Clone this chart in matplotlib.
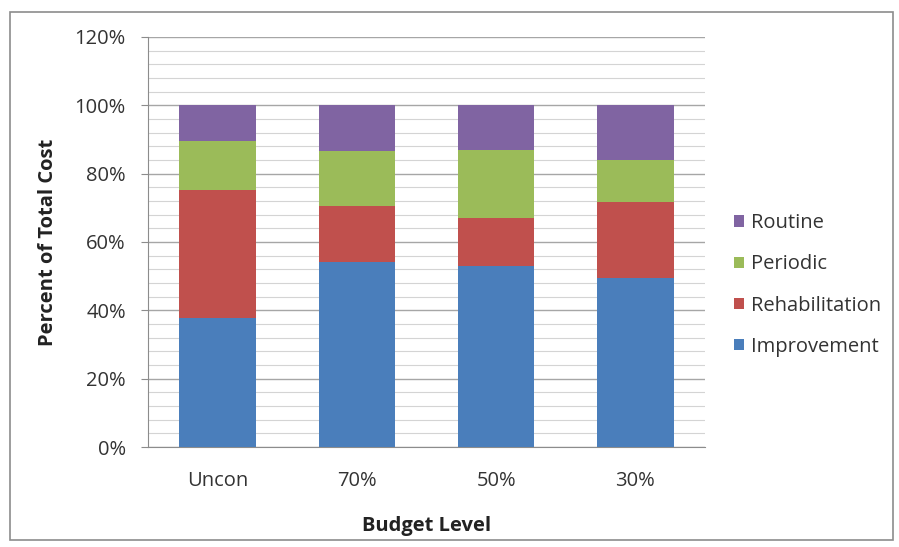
import numpy as np
import matplotlib.pyplot as plt
from matplotlib.patches import Rectangle

# === Daten ===
categories = ['Uncon', '70%', '50%', '30%']
series_names = ['Improvement', 'Rehabilitation', 'Periodic', 'Routine']
improvement = [37.8, 54.1, 52.9, 49.6]
rehabilitation = [37.3, 16.4, 14.1, 22.1]
periodic = [14.5, 16.1, 19.8, 12.2]
routine = [10.4, 13.4, 13.2, 16.1]
colors = ['#4A7EBB', '#C0504D', '#9BBB59', '#8064A2']

plt.rcParams['font.family'] = ['Open Sans', 'DejaVu Sans']
fs = 14.5

fig = plt.figure(figsize=(8.99, 5.47), dpi=100)
ax = fig.add_axes([0.1646, 0.1828, 0.6196, 0.7496])

# Rahmen um das ganze Diagramm
fig.patches.append(Rectangle((0.011, 0.012), 0.982, 0.966, transform=fig.transFigure,
                             fill=False, edgecolor='#8c8c8c', linewidth=1.2))

x = np.arange(len(categories))
bottom = np.zeros(len(categories))
for name, vals, col in zip(series_names, [improvement, rehabilitation, periodic, routine], colors):
    ax.bar(x, vals, 0.55, bottom=bottom, color=col, label=name, zorder=3)
    bottom += np.array(vals)

ax.set_xlim(-0.5, 3.5)
ax.set_ylim(0, 120)
ax.set_yticks(np.arange(0, 121, 20))
ax.set_yticklabels([f'{v}%' for v in range(0, 121, 20)])
ax.set_yticks(np.arange(0, 121, 4), minor=True)
ax.set_xticks(x)
ax.set_xticklabels(categories)

# Gitter
ax.grid(axis='y', which='major', color='#a6a6a6', linewidth=1.0, zorder=0)
ax.grid(axis='y', which='minor', color='#d4d4d4', linewidth=0.8, zorder=0)

for s in ['top', 'right']:
    ax.spines[s].set_visible(False)
ax.spines['left'].set_color('#8c8c8c')
ax.spines['bottom'].set_color('#8c8c8c')
ax.tick_params(axis='y', which='major', length=5, color='#8c8c8c', labelsize=fs, pad=11,
               labelcolor='#333333')
ax.tick_params(axis='y', which='minor', length=0)
ax.tick_params(axis='x', length=0, labelsize=fs, pad=17, labelcolor='#333333')

ax.set_xlabel('Budget Level', fontsize=fs, fontweight='bold', labelpad=18, color='#222222')
ax.set_ylabel('Percent of Total Cost', fontsize=fs, fontweight='bold', labelpad=12, color='#222222')

# Legende (umgekehrte Reihenfolge wie in Excel)
h, l = ax.get_legend_handles_labels()
ax.legend(h[::-1], l[::-1], loc='center left', bbox_to_anchor=(1.02, 0.395),
          frameon=False, fontsize=fs, handlelength=0.5, handleheight=0.5,
          handletextpad=0.35, labelspacing=1.05, labelcolor='#333333')

plt.savefig('out.png', dpi=100)
